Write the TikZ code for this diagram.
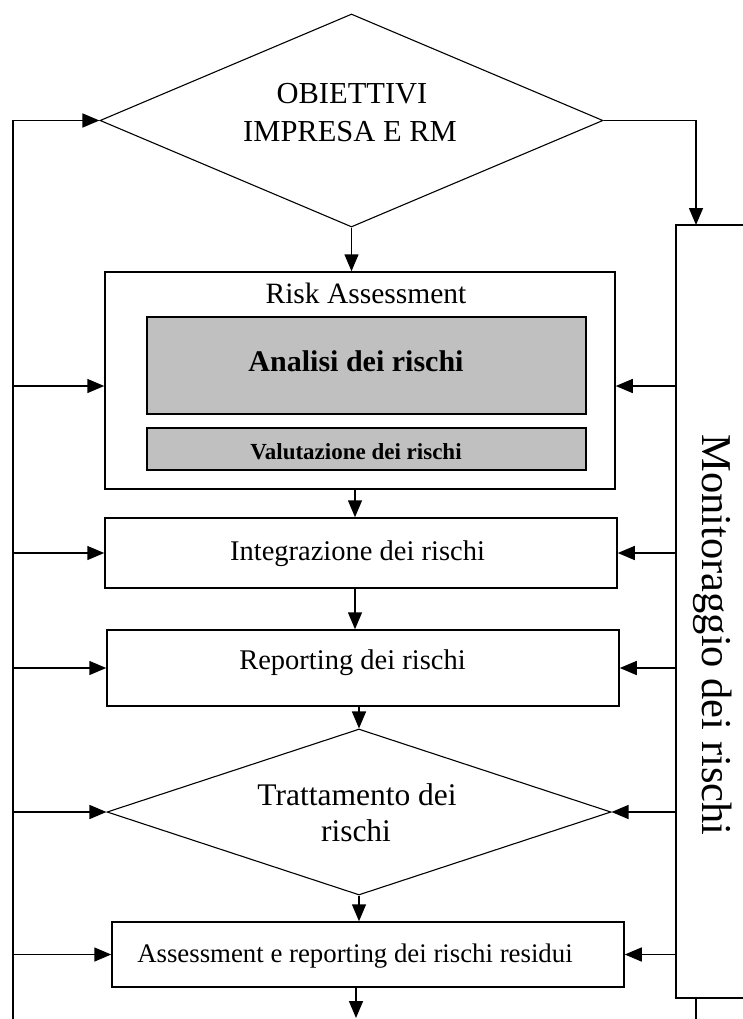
\documentclass[tikz,border=0pt]{standalone}
\usepackage{fontspec}
\setmainfont{Liberation Serif}
\usetikzlibrary{shapes.geometric,arrows.meta,calc}
\newcommand\setfs[1]{\fontsize{#1}{#1}\selectfont}
\begin{document}
\begin{tikzpicture}[x=1pt,y=-1pt, line width=1.5pt,
  box/.style={draw, rectangle, inner sep=0pt},
  graybox/.style={box, fill=gbox},
  dia/.style={draw, diamond, inner sep=0pt, line width=1.1pt},
  arr/.style={-{Triangle[length=17pt,width=14pt]}},
  txt/.style={inner sep=0pt, anchor=base}]
\definecolor{gbox}{HTML}{C0C0C0}
\clip (0,0) rectangle (743,1019);
\fill[white] (0,0) rectangle (743,1019);

% shapes
\node[dia, minimum width=503pt, minimum height=213pt] (d1) at (351.5,120.5) {};
\node[box, minimum width=510pt, minimum height=217pt] (ra) at (360,380.5) {};
\node[graybox, minimum width=439pt, minimum height=97pt] (an) at (366.5,365.5) {};
\node[graybox, minimum width=439pt, minimum height=42pt] (va) at (366.5,449) {};
\node[box, minimum width=512pt, minimum height=70pt] (int) at (361,553) {};
\node[box, minimum width=512pt, minimum height=76pt] (rep) at (363,668) {};
\node[dia, minimum width=504pt, minimum height=166pt] (d2) at (359,812) {};
\node[box, minimum width=512pt, minimum height=65pt] (ass) at (368,954.5) {};
\node[box, minimum width=114pt, minimum height=773pt] (mon) at (733,611.5) {};

% texts
\node[txt, font=\setfs{30.5}] (t1a) at (352,104) {OBIETTIVI};
\node[txt, font=\setfs{30.5}] (t1b) at (350,142) {IMPRESA E RM};
\node[txt, font=\setfs{29.5}] (tra) at (366,303) {Risk Assessment};
\node[txt, font=\setfs{30}\bfseries] (tan) at (356,371) {Analisi dei rischi};
\node[txt, font=\setfs{23}\bfseries] (tva) at (356,459) {Valutazione dei rischi};
\node[txt, font=\setfs{28.5}] (tint) at (357.5,560) {Integrazione dei rischi};
\node[txt, font=\setfs{28.5}] (trep) at (352.5,669) {Reporting dei rischi};
\node[txt, font=\setfs{31.5}] (td2a) at (357,805) {Trattamento dei};
\node[txt, font=\setfs{31.5}] (td2b) at (356,841) {rischi};
\node[txt, font=\setfs{26.8}] (tass) at (355,962) {Assessment e reporting dei rischi residui};
\node[txt, font=\setfs{42.5}, rotate=-90] (tmon) at (702,635) {Monitoraggio dei rischi};

% helper coordinates
\coordinate (lb) at (13,1030);
\coordinate (cx) at (355,0);
\coordinate (mt) at (696,225);
\coordinate (ab) at (356,1018);
\coordinate (raw) at ($(ra.west)+(0,5.5)$);
\coordinate (rae) at ($(ra.east)+(0,5.5)$);

% left feedback line
\draw[arr] (lb) |- (d1.west);
\draw[arr] (raw -| lb) -- (raw);
\draw[arr] (int.west -| lb) -- (int.west);
\draw[arr] (rep.west -| lb) -- (rep.west);
\draw[arr] (d2.west -| lb) -- (d2.west);
\draw[arr] (ass.west -| lb) -- (ass.west);

% right monitoring arrows
\draw[arr] (d1.east) -| (mt);
\draw[arr] (rae -| mon.west) -- (rae);
\draw[arr] (int.east -| mon.west) -- (int.east);
\draw[arr] (rep.east -| mon.west) -- (rep.east);
\draw[arr] (d2.east -| mon.west) -- (d2.east);
\draw[arr] (ass.east -| mon.west) -- (ass.east);
\draw (mon.south -| mt) -- ++(0,30);

% main flow
\draw[arr] (d1.south) -- (ra.north -| d1.south);
\draw[arr] (ra.south -| cx) -- (int.north -| cx);
\draw[arr] (int.south -| cx) -- (rep.north -| cx);
\draw[arr] (rep.south -| d2.north) -- (d2.north);
\draw[arr] (d2.south) -- (ass.north -| d2.south);
\draw[arr] (ass.south -| ab) -- (ab);
\end{tikzpicture}
\end{document}
